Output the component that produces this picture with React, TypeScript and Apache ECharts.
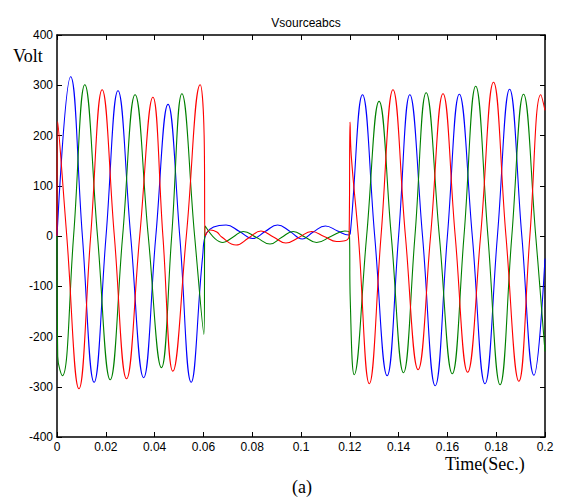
import React, { useEffect, useRef } from "react";
import * as echarts from "echarts";

// Phase A (blue) – time (s) and voltage (V), read at peaks / zero crossings / troughs
const blueT = [0, 0.0056, 0.0104, 0.0152, 0.0201, 0.025, 0.0302, 0.0355, 0.0405, 0.0455, 0.0503, 0.055, 0.0597, 0.0613,
  0.0693, 0.0748, 0.0802, 0.0853, 0.0904, 0.0955, 0.1005, 0.105, 0.110, 0.115, 0.1195,
  0.1202, 0.1252, 0.1302, 0.1353, 0.14, 0.1446, 0.1498, 0.155, 0.16, 0.1649, 0.1702, 0.1754, 0.1805, 0.1855, 0.1905, 0.1955, 0.2];
const blueV = [0, 317, 0, -291, 0, 289, 0, -282, 0, 262, 0, -291, -40, 6,
  22, 9, -5, 9, 22, 9, -6, 8, 20, 10, 2,
  5, 281, 0, -278, 0, 281, 0, -298, 0, 282, 0, -294, 0, 292, 0, -277, -45];

// Phase B (green)
const greenT = [0, 0.0003, 0.0022, 0.0068, 0.0114, 0.0166, 0.0218, 0.0269, 0.032, 0.0374, 0.0428, 0.047, 0.0512, 0.0564, 0.0602, 0.0607,
  0.068, 0.0722, 0.0763, 0.0818, 0.0873, 0.092, 0.0968, 0.1016, 0.1064, 0.1122, 0.118, 0.1198,
  0.1202, 0.1218, 0.1269, 0.132, 0.137, 0.142, 0.1467, 0.1513, 0.1567, 0.162, 0.1668, 0.1716, 0.1766, 0.1816, 0.1864, 0.1912, 0.1962, 0.2];
const greenV = [0, -240, -278, 0, 301, 0, -286, 0, 281, 0, -262, 0, 283, 0, -196, 20,
  -13, -2, 9, -3, -16, -3, 9, -2, -13, -1, 10, 8,
  -130, -276, 0, 268, 0, -272, 0, 285, 0, -274, 0, 298, 0, -296, 0, 282, 0, -230];

// Phase C (red)
const redT = [0, 0.0003, 0.004, 0.009, 0.0138, 0.0185, 0.0235, 0.0285, 0.0339, 0.0393, 0.0434, 0.0475, 0.053, 0.0587, 0.0603, 0.0607,
  0.0628, 0.0655, 0.0675, 0.0734, 0.0785, 0.0836, 0.0887, 0.0938, 0.0991, 0.1044, 0.1095, 0.1146, 0.1197,
  0.1201, 0.1206, 0.1235, 0.128, 0.1328, 0.1377, 0.1428, 0.148, 0.1531, 0.1582, 0.1632, 0.1683, 0.1736, 0.1789, 0.184, 0.1893, 0.1938, 0.1983, 0.2];
const redV = [0, 228, 0, -304, 0, 291, 0, -284, 0, 276, 0, -269, 0, 301, 200, 0,
  12, 8, -2, -18, -4, 10, -2, -14, -3, 9, -1, -11, 0,
  227, 160, 0, -294, 0, 291, 0, -266, 0, 283, 0, -271, 0, 306, 0, -289, 0, 281, 250];

const xTicks = [0, 0.02, 0.04, 0.06, 0.08, 0.1, 0.12, 0.14, 0.16, 0.18, 0.2];
const yTicks = [-400, -300, -200, -100, 0, 100, 200, 300, 400];

const pairs = (t: number[], v: number[]) => t.map((x, i) => [x, v[i]]);

export default function App() {
  const ref = useRef<HTMLDivElement>(null);
  useEffect(() => {
    if (!ref.current) return;
    const chart = echarts.init(ref.current, null, { renderer: "svg" });
    const axisLine = { show: true, onZero: false, lineStyle: { color: "#000", width: 1.5 } };
    const tick = { show: true, inside: true, length: 5, lineStyle: { color: "#000", width: 1 } };
    const sans = "'Liberation Sans', Arial, sans-serif";
    const serif = "'Liberation Serif', 'Times New Roman', serif";
    const xLabel = (v: number) => (xTicks.includes(Math.round(v * 100) / 100) ? String(Math.round(v * 100) / 100) : "");
    const line = (name: string, t: number[], v: number[], color: string) => ({
      name, type: "line", data: pairs(t, v), smooth: 0.45, showSymbol: false,
      lineStyle: { color, width: 1.1 }, clip: true,
    });
    chart.setOption({
      animation: false,
      backgroundColor: "#fff",
      title: {
        text: "Vsourceabcs",
        left: 301,
        top: 12,
        textAlign: "center",
        textStyle: { fontFamily: sans, fontSize: 12, fontWeight: "normal", color: "#000" },
      },
      graphic: [
        { type: "text", left: 13, top: 47, style: { text: "Volt", font: `18px ${serif}`, fill: "#000" } },
        { type: "text", left: 445, top: 455, style: { text: "Time(Sec.)", font: `18px ${serif}`, fill: "#000" } },
        { type: "text", left: 292, top: 478, style: { text: "(a)", font: `18px ${serif}`, fill: "#000" } },
      ],
      grid: { left: 57, right: 18, top: 35, bottom: 64, containLabel: false },
      xAxis: [
        {
          type: "value", min: 0, max: 0.2, interval: 0.02, position: "bottom",
          axisLine, axisTick: tick, splitLine: { show: false },
          axisLabel: { color: "#000", fontFamily: sans, fontSize: 12, margin: 4, formatter: xLabel },
        },
        {
          type: "value", min: 0, max: 0.2, interval: 0.02, position: "top",
          axisLine, axisTick: tick, splitLine: { show: false }, axisLabel: { show: false },
        },
      ],
      yAxis: [
        {
          type: "value", min: -400, max: 400, interval: 100, position: "left",
          axisLine, axisTick: tick, splitLine: { show: false },
          axisLabel: { color: "#000", fontFamily: sans, fontSize: 12, margin: 4,
            formatter: (v: number) => (yTicks.includes(v) ? String(v) : "") },
        },
        {
          type: "value", min: -400, max: 400, interval: 100, position: "right",
          axisLine, axisTick: tick, splitLine: { show: false }, axisLabel: { show: false },
        },
      ],
      series: [
        line("Va", blueT, blueV, "#0000ff"),
        line("Vb", greenT, greenV, "#008000"),
        line("Vc", redT, redV, "#ff0000"),
      ],
    });
    return () => chart.dispose();
  }, []);
  return <div ref={ref} style={{ position: "fixed", left: 0, top: 0, width: 563, height: 501 }} />;
}
